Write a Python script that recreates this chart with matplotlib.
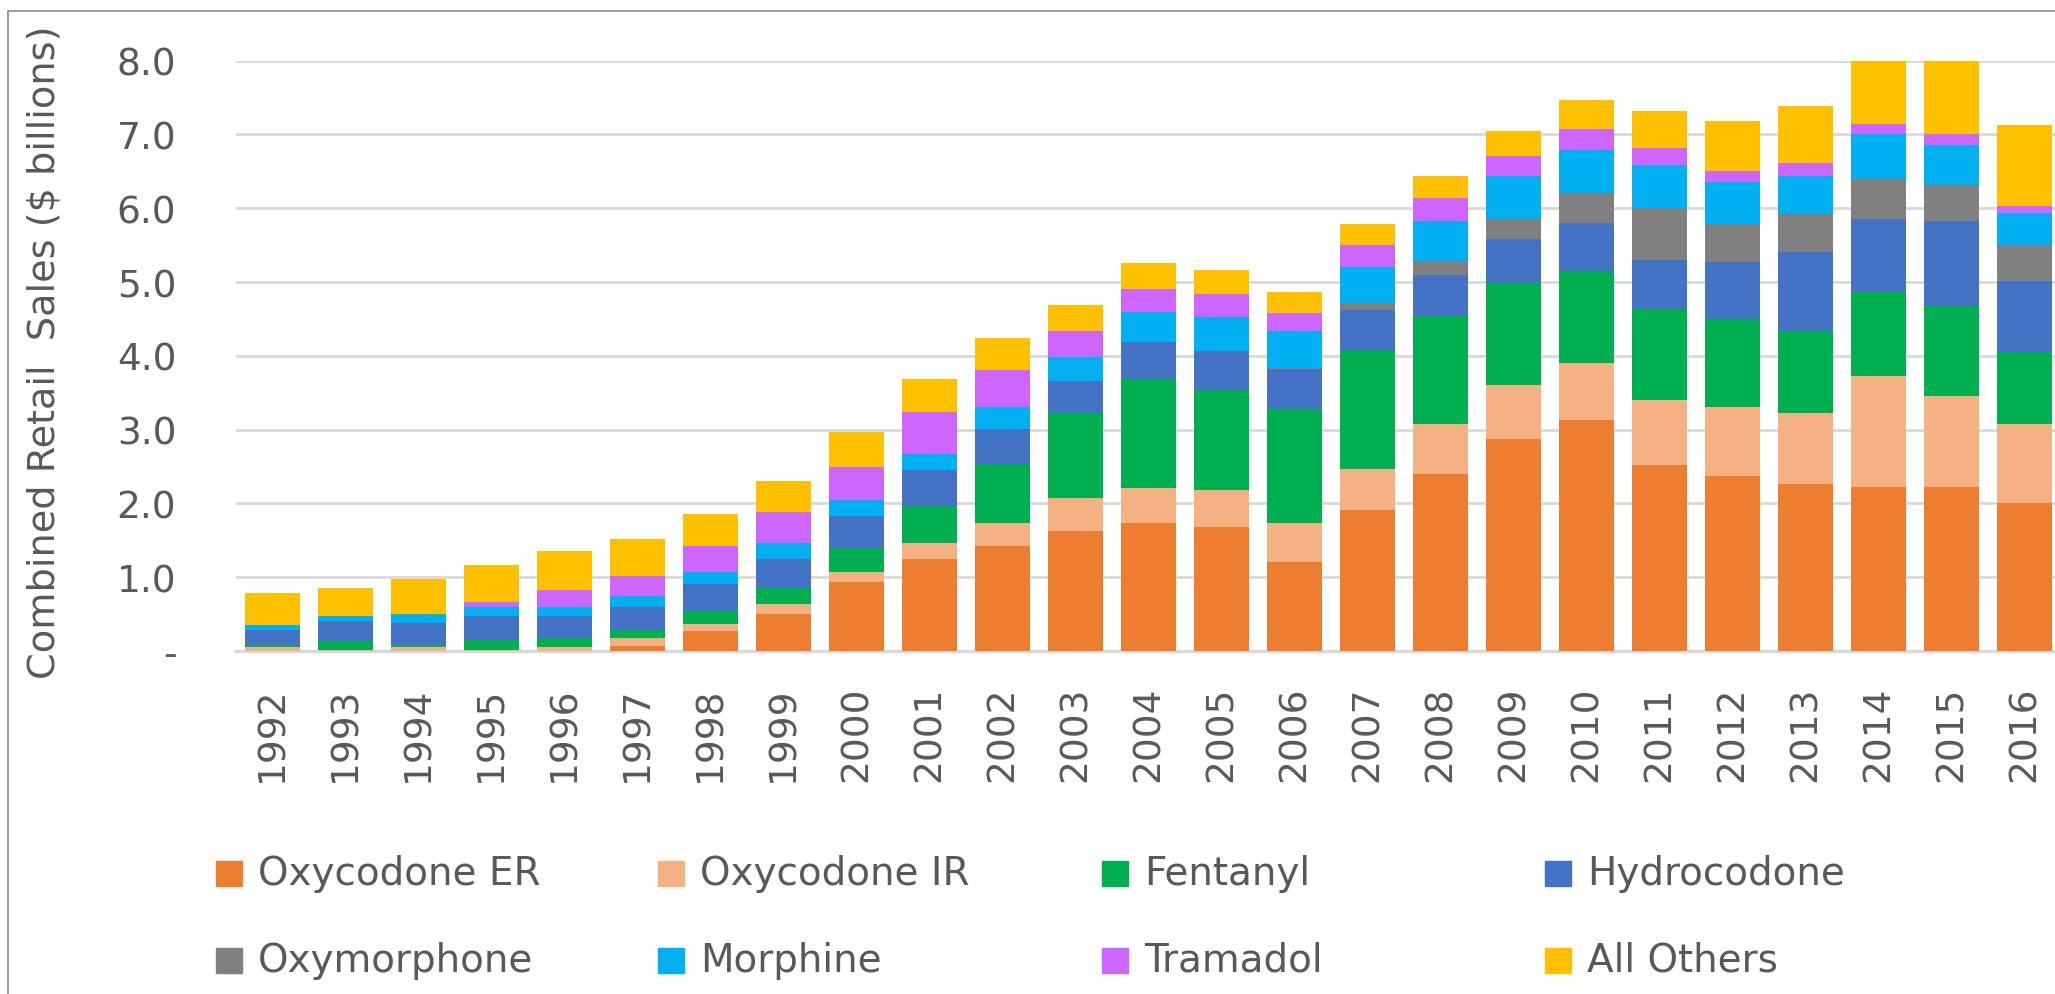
import matplotlib.pyplot as plt
from matplotlib.patches import Rectangle
import numpy as np

plt.rcParams['font.family'] = 'DejaVu Sans'

# combined retail sales, $ billions
years = [str(y) for y in range(1992, 2017)]
oxycodone_er = [0.00, 0.00, 0.00, 0.00, 0.00, 0.07, 0.27, 0.50, 0.94, 1.25, 1.42, 1.63, 1.74,
                1.68, 1.21, 1.91, 2.40, 2.87, 3.13, 2.52, 2.37, 2.26, 2.22, 2.22, 2.00]
oxycodone_ir = [0.05, 0.02, 0.05, 0.02, 0.05, 0.10, 0.09, 0.14, 0.13, 0.21, 0.32, 0.44, 0.47,
                0.50, 0.53, 0.56, 0.68, 0.74, 0.77, 0.88, 0.93, 0.96, 1.50, 1.24, 1.07]
fentanyl = [0.03, 0.12, 0.03, 0.13, 0.12, 0.12, 0.18, 0.22, 0.32, 0.51, 0.80, 1.15, 1.48,
            1.35, 1.54, 1.61, 1.46, 1.37, 1.25, 1.23, 1.20, 1.12, 1.14, 1.22, 0.98]
hydrocodone = [0.20, 0.26, 0.30, 0.32, 0.30, 0.30, 0.37, 0.39, 0.44, 0.48, 0.47, 0.44, 0.50,
               0.54, 0.54, 0.54, 0.55, 0.60, 0.65, 0.67, 0.77, 1.07, 1.00, 1.15, 0.96]
oxymorphone = [0.00, 0.00, 0.00, 0.00, 0.00, 0.00, 0.00, 0.00, 0.00, 0.00, 0.00, 0.00, 0.00,
               0.00, 0.02, 0.09, 0.20, 0.27, 0.41, 0.70, 0.52, 0.51, 0.53, 0.49, 0.49]
morphine = [0.07, 0.07, 0.12, 0.12, 0.12, 0.15, 0.16, 0.21, 0.22, 0.22, 0.30, 0.33, 0.41,
            0.46, 0.50, 0.50, 0.53, 0.59, 0.58, 0.58, 0.56, 0.52, 0.61, 0.53, 0.44]
tramadol = [0.00, 0.00, 0.00, 0.08, 0.24, 0.27, 0.35, 0.43, 0.44, 0.57, 0.50, 0.35, 0.31,
            0.31, 0.24, 0.29, 0.32, 0.27, 0.28, 0.24, 0.15, 0.17, 0.14, 0.15, 0.09]
all_others = [0.44, 0.39, 0.47, 0.50, 0.53, 0.51, 0.43, 0.42, 0.48, 0.45, 0.43, 0.35, 0.35,
              0.32, 0.29, 0.28, 0.30, 0.33, 0.39, 0.50, 0.68, 0.78, 0.95, 1.10, 1.10]

names = ['Oxycodone ER', 'Oxycodone IR', 'Fentanyl', 'Hydrocodone',
         'Oxymorphone', 'Morphine', 'Tramadol', 'All Others']
series = [oxycodone_er, oxycodone_ir, fentanyl, hydrocodone,
          oxymorphone, morphine, tramadol, all_others]
colors = ['#ED7D31', '#F4B183', '#00B050', '#4472C4',
          '#808080', '#00B0F0', '#CC66FF', '#FFC000']

W, H = 2055, 995
fig = plt.figure(figsize=(W / 100, H / 100), dpi=100)
ax = fig.add_axes([236 / W, 1 - 652 / H, 1825 / W, (652 - 61.6) / H])

x = np.arange(len(years))
bottom = np.zeros(len(years))
for vals, name, col in zip(series, names, colors):
    ax.bar(x, vals, 0.74, bottom=bottom, color=col, label=name, zorder=3)
    bottom += np.array(vals)

ax.set_xlim(-0.5, len(years) - 0.5)
ax.set_ylim(0, 8)
ax.set_axisbelow(True)
ax.yaxis.grid(True, color='#d9d9d9', lw=2)

for s in ['top', 'right', 'left']:
    ax.spines[s].set_visible(False)
ax.spines['bottom'].set_color('#d9d9d9')
ax.spines['bottom'].set_linewidth(2.5)

ax.set_yticks(range(9))
ax.set_yticklabels(['-'] + ['%.1f' % v for v in range(1, 9)])
ax.set_xticks(x)
ax.set_xticklabels(years, rotation=90)
ax.tick_params(axis='y', length=0, pad=43, labelsize=27, labelcolor='#595959')
ax.tick_params(axis='x', length=0, pad=25, labelsize=27, labelcolor='#595959')

fig.text(45 / W, 1 - 352 / H, 'Combined Retail  Sales ($ billions)', rotation=90,
         ha='center', va='center', fontsize=27.5, color='#595959')

# legend, laid out like the Excel one: 2 rows x 4 columns
col_x = [216, 658, 1102, 1545]
row_y = [874, 961]
for i, (name, col) in enumerate(zip(names, colors)):
    lx = col_x[i % 4]
    ly = row_y[i // 4]
    fig.add_artist(Rectangle((lx / W, 1 - (ly + 12.5) / H), 26 / W, 25 / H,
                             transform=fig.transFigure, color=col))
    fig.text((lx + 42) / W, 1 - ly / H, name, ha='left', va='center',
             fontsize=28, color='#595959')

# thin frame round the chart
fig.add_artist(Rectangle((8 / W, -0.1), 1.2, 1.1 - 12 / H, transform=fig.transFigure,
                         fill=False, ec='#8c8c8c', lw=1.2))

plt.savefig('out.png', dpi=100)
